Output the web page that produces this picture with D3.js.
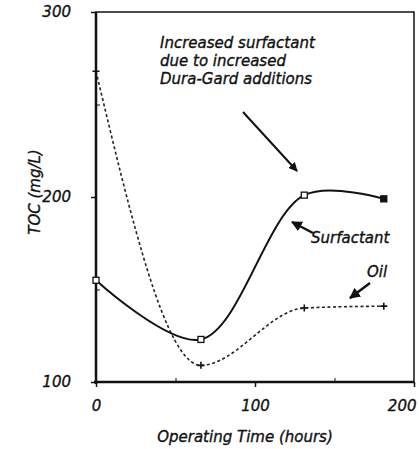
<!DOCTYPE html>
<html><head><meta charset="utf-8">
<script src="https://cdn.jsdelivr.net/npm/d3@7"></script>
<style>
body{margin:0;background:#fff;}
text{font-family:"DejaVu Sans",sans-serif;font-style:italic;fill:#111;stroke:#111;stroke-width:0.35px;}
</style></head>
<body><svg id="c" width="419" height="449"></svg>
<script>
const surfHours = [0, 66, 131, 181];
const surfTOC   = [155, 123, 201, 199];
const oilHours  = [0, 66, 131, 181];
const oilTOC    = [268, 109, 140, 141];
const xTicks = [0, 100, 200];
const yTicks = [100, 200, 300];
const xMinor = [50, 150];
const yMinor = [150, 250];

const FONT = "DejaVu Sans, sans-serif";
const svg = d3.select("#c");
const x = d3.scaleLinear().domain([0, 200]).range([96, 414]);
const y = d3.scaleLinear().domain([100, 300]).range([382, 12]);

// frame
svg.append("rect").attr("x",96).attr("y",12).attr("width",318).attr("height",370)
  .attr("fill","none").attr("stroke","#111").attr("stroke-width",1.5);
svg.append("line").attr("x1",96).attr("x2",96).attr("y1",12).attr("y2",384).attr("stroke","#111").attr("stroke-width",2.5);
svg.append("line").attr("x1",94).attr("x2",414).attr("y1",382).attr("y2",382).attr("stroke","#111").attr("stroke-width",2.5);

// axes
const yAx = svg.append("g").attr("transform","translate(96,0)")
  .call(d3.axisLeft(y).tickValues(yTicks).tickSize(5).tickPadding(20).tickFormat(d3.format("d")));
const xAx = svg.append("g").attr("transform","translate(0,382)")
  .call(d3.axisBottom(x).tickValues(xTicks).tickSize(5).tickPadding(13).tickFormat(d3.format("d")));
[yAx,xAx].forEach(g=>{
  g.select(".domain").remove();
  g.selectAll("line").attr("stroke","#111").attr("stroke-width",1.5);
  g.selectAll("text").attr("font-size",15).attr("font-style","italic").attr("font-family",FONT).attr("fill","#111");
});
xAx.selectAll(".tick text").filter(d=>d===200).attr("text-anchor","end").attr("dx",2);
svg.append("g").attr("transform","translate(96,0)")
  .call(d3.axisRight(y).tickValues(yMinor).tickSize(4).tickFormat(""))
  .call(g=>{g.select(".domain").remove(); g.selectAll("line").attr("stroke","#111");});
svg.append("g").attr("transform","translate(0,382)")
  .call(d3.axisTop(x).tickValues(xMinor).tickSize(4).tickFormat(""))
  .call(g=>{g.select(".domain").remove(); g.selectAll("line").attr("stroke","#111");});

// axis titles
svg.append("text").attr("x",245).attr("y",442).attr("text-anchor","middle").attr("font-size",15).text("Operating Time (hours)");
svg.append("text").attr("transform","translate(40,192) rotate(-90)").attr("text-anchor","middle").attr("font-size",15).text("TOC (mg/L)");

// lines
const surf = surfHours.map((h,i)=>[h,surfTOC[i]]);
const oil = oilHours.map((h,i)=>[h,oilTOC[i]]);
const surfLine = d3.line().x(d=>x(d[0])).y(d=>y(d[1])).curve(d3.curveCatmullRom.alpha(0.5));
const oilLine = d3.line().x(d=>x(d[0])).y(d=>y(d[1])).curve(d3.curveMonotoneX);
svg.append("path").datum(oil).attr("d",oilLine).attr("fill","none").attr("stroke","#222")
  .attr("stroke-width",1.6).attr("stroke-dasharray","3,2.5");
svg.append("path").datum(surf).attr("d",surfLine).attr("fill","none").attr("stroke","#111").attr("stroke-width",2);

// markers
svg.selectAll(".sm").data(surf).join("rect")
  .attr("x",d=>x(d[0])-3).attr("y",d=>y(d[1])-3).attr("width",6).attr("height",6)
  .attr("fill",(d,i)=>i===surf.length-1?"#111":"#fff").attr("stroke","#111").attr("stroke-width",1.3);
svg.selectAll(".om").data(oil).join("path")
  .attr("d",d=>{const cx=x(d[0]),cy=y(d[1]);return `M${cx-3.5},${cy}L${cx+3.5},${cy}M${cx},${cy-3.5}L${cx},${cy+3.5}`;})
  .attr("stroke","#111").attr("stroke-width",1.6);

// annotation
const ann = ["Increased surfactant","due to increased","Dura-Gard additions"];
svg.append("text").attr("font-size",15).selectAll("tspan").data(ann).join("tspan")
  .attr("x",160).attr("y",(d,i)=>48+i*18).text(d=>d);
svg.append("text").attr("x",311).attr("y",243).attr("font-size",15).text("Surfactant");
svg.append("text").attr("x",367).attr("y",277).attr("font-size",15).text("Oil");

// arrows
const defs = svg.append("defs");
defs.append("marker").attr("id","ah").attr("viewBox","0 0 10 10").attr("refX",9).attr("refY",5)
  .attr("markerWidth",4.5).attr("markerHeight",4.5).attr("orient","auto-start-reverse")
  .append("path").attr("d","M0,0L10,5L0,10Z").attr("fill","#111");
function arrow(x1,y1,x2,y2,w){
  svg.append("line").attr("x1",x1).attr("y1",y1).attr("x2",x2).attr("y2",y2)
    .attr("stroke","#111").attr("stroke-width",w).attr("marker-end","url(#ah)");
}
arrow(243,112,297,171,2);
arrow(313,233,292,222,2.4);
arrow(370,283,350,298,2.4);
</script></body></html>
